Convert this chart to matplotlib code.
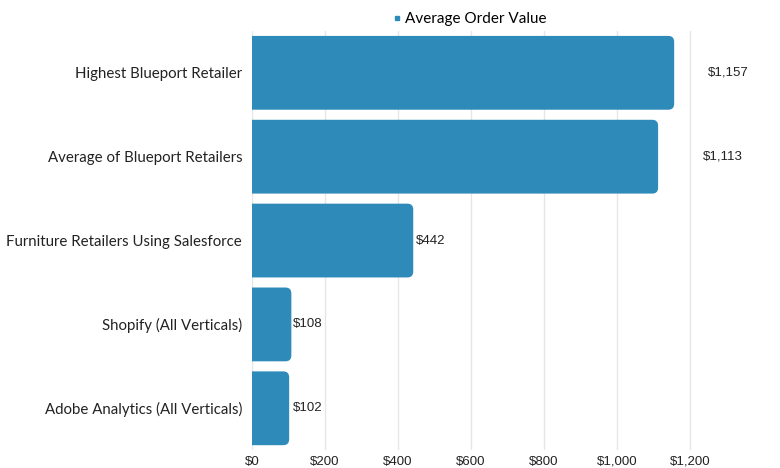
import matplotlib.pyplot as plt
from matplotlib.patches import FancyBboxPatch
from matplotlib.lines import Line2D

categories = ['Highest Blueport Retailer', 'Average of Blueport Retailers',
              'Furniture Retailers Using Salesforce', 'Shopify (All Verticals)',
              'Adobe Analytics (All Verticals)']
values = [1157, 1113, 442, 108, 102]
value_labels = ['$1,157', '$1,113', '$442', '$108', '$102']
label_offsets = [34, 45, 3, 2, 4]  # px gap between bar end and value label
ticks = [0, 200, 400, 600, 800, 1000, 1200]
tick_labels = ['$0', '$200', '$400', '$600', '$800', '$1,000', '$1,200']

color = '#2e8bb9'
label_font = ['Lato', 'DejaVu Sans']
value_font = ['Liberation Sans', 'DejaVu Sans']

fig = plt.figure(figsize=(7.8, 4.68), dpi=100)
ax = fig.add_axes([0.323, 0.038, 0.655, 0.896])

ax.set_xlim(0, 1400)
ax.set_ylim(len(categories) - 0.5, -0.5)

h = 0.88
r = 16  # corner radius in x data units
for i, v in enumerate(values):
    box = FancyBboxPatch((-r, i - h / 2), v + r, h,
                         boxstyle=f'round,pad=0,rounding_size={r}',
                         mutation_aspect=0.0044, facecolor=color,
                         edgecolor='none', zorder=3)
    ax.add_patch(box)
    ax.annotate(value_labels[i], xy=(v, i), xytext=(label_offsets[i] * 0.72, 0),
                textcoords='offset points', va='center', ha='left',
                fontsize=9.5, family=value_font, color='#222222')

ax.set_xticks(ticks)
ax.set_xticklabels(tick_labels, family=value_font, fontsize=9.5, color='#222222')
ax.set_yticks(range(len(categories)))
ax.set_yticklabels(categories, family=label_font, fontsize=10.8, color='#222222')
ax.tick_params(length=0, pad=4)
ax.tick_params(axis='y', pad=7)
ax.grid(axis='x', color='#e6e6e6', linewidth=1, zorder=0)
ax.set_axisbelow(True)
for s in ax.spines.values():
    s.set_visible(False)

handle = Line2D([], [], marker='s', linestyle='', color=color, markersize=3.5)
fig.legend([handle], ['Average Order Value'], loc='center', bbox_to_anchor=(0.602, 0.959),
           frameon=False, prop={'family': label_font, 'size': 11},
           handlelength=0.5, handletextpad=0.3)

fig.savefig('out.png', dpi=100)
